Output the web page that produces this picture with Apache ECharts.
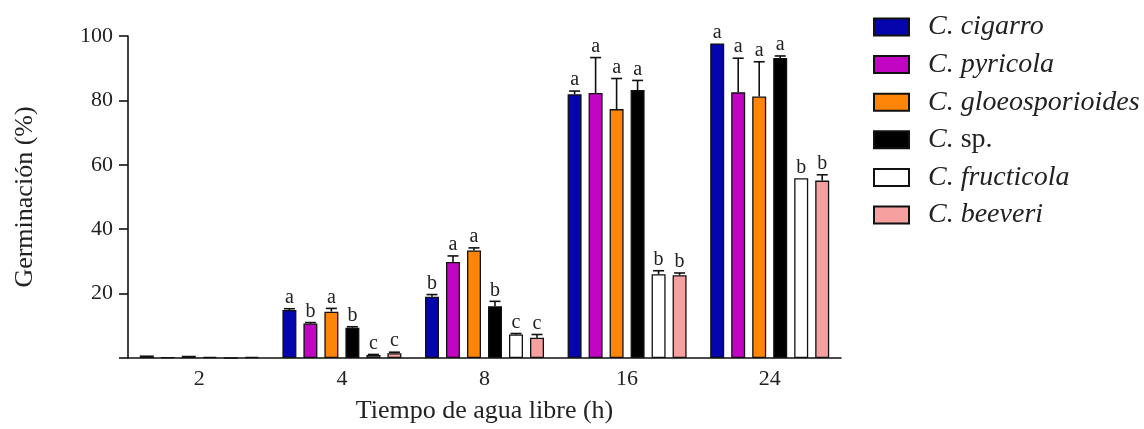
<!DOCTYPE html>
<html>
<head>
<meta charset="utf-8">
<script src="https://cdn.jsdelivr.net/npm/echarts@6/dist/echarts.min.js"></script>
<style>html,body{margin:0;padding:0;background:#fff}#c{width:1144px;height:429px}</style>
</head>
<body>
<div id="c"></div>
<script>
const categories = ['2', '4', '8', '16', '24'];
const seriesNames = ['C. cigarro', 'C. pyricola', 'C. gloeosporioides', 'C. sp.', 'C. fructicola', 'C. beeveri'];
const seriesColors = ['#0505ad', '#c205c2', '#ff8508', '#000000', '#ffffff', '#f7a0a0'];

const cigarro = [0.8, 14.9, 19.0, 81.9, 97.7];
const pyricola = [0.2, 10.7, 29.8, 82.3, 82.5];
const gloeosporioides = [0.7, 14.4, 33.4, 77.3, 81.2];
const sp = [0.3, 9.4, 16.1, 83.2, 93.2];
const fructicola = [0, 0.9, 7.3, 26.0, 55.8];
const beeveri = [0.3, 1.5, 6.3, 25.7, 55.1];

const cigarroErr = [0, 0.4, 0.7, 1.0, 0];
const pyricolaErr = [0, 0.3, 1.9, 11.0, 10.6];
const gloeosporioidesErr = [0, 1.0, 0.8, 9.5, 10.8];
const spErr = [0, 0.3, 1.5, 3.0, 0.6];
const fructicolaErr = [0, 0.2, 0.3, 1.1, 0];
const beeveriErr = [0, 0.3, 1.0, 0.7, 1.8];

const cigarroLetters = ['', 'a', 'b', 'a', 'a'];
const pyricolaLetters = ['', 'b', 'a', 'a', 'a'];
const gloeosporioidesLetters = ['', 'a', 'a', 'a', 'a'];
const spLetters = ['', 'b', 'b', 'a', 'a'];
const fructicolaLetters = ['', 'c', 'c', 'b', 'b'];
const beveriLetters = ['', 'c', 'c', 'b', 'b'];

const values = [cigarro, pyricola, gloeosporioides, sp, fructicola, beeveri];
const errors = [cigarroErr, pyricolaErr, gloeosporioidesErr, spErr, fructicolaErr, beeveriErr];
const letters = [cigarroLetters, pyricolaLetters, gloeosporioidesLetters, spLetters, fructicolaLetters, beveriLetters];

const BAR_W = 14, BAR_GAP = 7;
const FONT = '"Liberation Serif", "DejaVu Serif", serif';

const series = [];
seriesNames.forEach((name, i) => {
  series.push({
    name: name,
    type: 'bar',
    data: values[i],
    barWidth: BAR_W,
    barGap: (BAR_GAP / BAR_W * 100) + '%',
    itemStyle: { color: seriesColors[i], borderColor: '#111', borderWidth: 1.3 },
    silent: true
  });
});
seriesNames.forEach((name, i) => {
  series.push({
    type: 'custom',
    z: 5,
    silent: true,
    data: categories.map((c, j) => [j, values[i][j], errors[i][j]]),
    encode: { x: 0, y: 1 },
    renderItem: function (params, api) {
      const idx = api.value(0), v = api.value(1), e = api.value(2);
      const base = api.coord([idx, v]);
      const top = api.coord([idx, v + e]);
      const x = base[0] + (i - 2.5) * (BAR_W + BAR_GAP);
      const children = [];
      if (e > 0) {
        children.push({ type: 'line', shape: { x1: x, y1: base[1], x2: x, y2: top[1] }, style: { stroke: '#111', lineWidth: 1.6 } });
        children.push({ type: 'line', shape: { x1: x - 5.5, y1: top[1], x2: x + 5.5, y2: top[1] }, style: { stroke: '#111', lineWidth: 1.6 } });
      }
      const lt = letters[i][params.dataIndex];
      if (lt) {
        children.push({ type: 'text', style: { x: x, y: top[1] - 1, text: lt, textAlign: 'center', textVerticalAlign: 'bottom', font: '20px ' + FONT, fill: '#222' } });
      }
      return { type: 'group', children: children };
    }
  });
});

const chart = echarts.init(document.getElementById('c'));
chart.setOption({
  animation: false,
  backgroundColor: '#fff',
  grid: { left: 128, right: 303, top: 36, bottom: 69, containLabel: false },
  legend: {
    data: seriesNames,
    orient: 'vertical',
    left: 868,
    top: 8,
    itemWidth: 35,
    itemHeight: 17,
    itemGap: 9.6,
    icon: 'rect',
    formatter: function (name) {
      if (name === 'C. sp.') return '{i|C.} {n|sp.}';
      return '{i|' + name + '}';
    },
    textStyle: {
      fontFamily: FONT, fontSize: 28, color: '#222', padding: [0, 0, 0, 14],
      rich: {
        i: { fontFamily: FONT, fontSize: 28, fontStyle: 'italic', color: '#222', lineHeight: 28 },
        n: { fontFamily: FONT, fontSize: 28, fontStyle: 'normal', color: '#222', lineHeight: 28 }
      }
    }
  },
  xAxis: {
    type: 'category',
    data: categories,
    name: 'Tiempo de agua libre (h)',
    nameLocation: 'middle',
    nameGap: 40,
    nameTextStyle: { fontFamily: FONT, fontSize: 26, color: '#222' },
    axisLine: { lineStyle: { color: '#111', width: 1.6 } },
    axisTick: { alignWithLabel: true, length: 8, lineStyle: { color: '#111', width: 1.6 } },
    axisLabel: { fontFamily: FONT, fontSize: 22, color: '#222', margin: 10 }
  },
  yAxis: {
    type: 'value',
    min: 0,
    max: 100,
    interval: 20,
    name: 'Germinación (%)',
    nameLocation: 'middle',
    nameGap: 90,
    nameTextStyle: { fontFamily: FONT, fontSize: 26, color: '#222' },
    splitLine: { show: false },
    axisLine: { show: true, lineStyle: { color: '#111', width: 1.6 } },
    axisTick: { show: true, length: 9, lineStyle: { color: '#111', width: 1.6 } },
    axisLabel: { fontFamily: FONT, fontSize: 22, color: '#222', margin: 15, formatter: v => v === 0 ? '' : String(v) }
  },
  series: series
});
</script>
</body>
</html>
